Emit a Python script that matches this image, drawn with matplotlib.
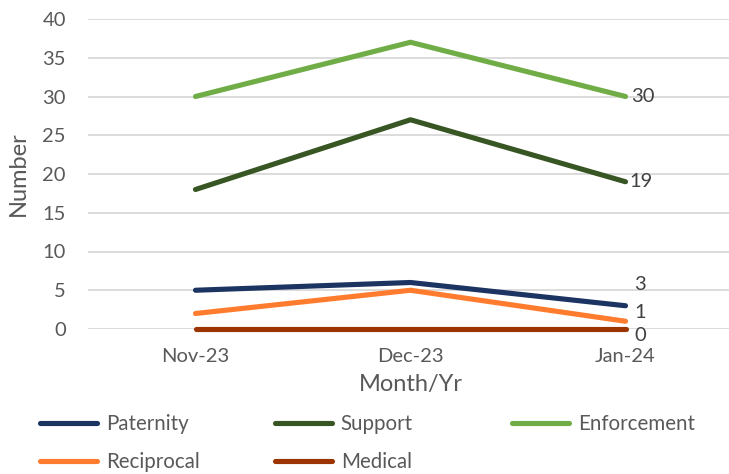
import matplotlib
matplotlib.use("Agg")
import matplotlib.pyplot as plt
from matplotlib.lines import Line2D

plt.rcParams['font.family'] = ['Lato', 'DejaVu Sans']

months = ["Nov-23", "Dec-23", "Jan-24"]
paternity = [5, 6, 3]
support = [18, 27, 19]
enforcement = [30, 37, 30]
reciprocal = [2, 5, 1]
medical = [0, 0, 0]
series_names = ["Paternity", "Support", "Enforcement", "Reciprocal", "Medical"]
series_values = [paternity, support, enforcement, reciprocal, medical]
yticks = [0, 5, 10, 15, 20, 25, 30, 35, 40]

colors = ["#1B3462", "#375623", "#70AD47", "#FF7C2E", "#9C3400"]
# label offsets (points) for the last-point data labels
label_offsets = [(6.5, 15), (3, 0), (4, 0), (6.5, 6), (6.5, -4.5)]

W, H = 729, 474
fig = plt.figure(figsize=(W / 100, H / 100), dpi=100)
left, right = 88 / W, 733 / W
bottom, top = 1 - 329 / H, 1 - 19 / H
ax = fig.add_axes([left, bottom, right - left, top - bottom])

x = list(range(len(months)))
lines = []
for name, vals, c in zip(series_names, series_values, colors):
    ln, = ax.plot(x, vals, color=c, lw=3.7, solid_capstyle='round',
                  solid_joinstyle='round', clip_on=False, zorder=3, label=name)
    lines.append(ln)

for vals, off in zip(series_values, label_offsets):
    ax.annotate(str(vals[-1]), xy=(x[-1], vals[-1]), xytext=off,
                textcoords='offset points', ha='left', va='center',
                fontsize=14.5, color='#404040', zorder=4)

ax.set_xlim(-0.5, len(months) - 0.5)
ax.set_ylim(0, 40)
ax.set_yticks(yticks)
ax.set_xticks(x)
ax.set_xticklabels(months)
ax.grid(axis='y', color='#D9D9D9', lw=1.3)
ax.set_axisbelow(True)
for s in ax.spines.values():
    s.set_visible(False)
ax.tick_params(axis='both', length=0, labelsize=14.5, labelcolor='#595959')
ax.tick_params(axis='y', pad=16)
ax.tick_params(axis='x', pad=14)

fig.text(18 / W, 1 - 174 / H, "Number", rotation=90, ha='center', va='center',
         fontsize=17, color='#595959')
fig.text(411 / W, 1 - 385 / H, "Month/Yr", ha='center', va='center',
         fontsize=17, color='#595959')

# legend entries placed like the reference (one legend per entry)
leg_pos = [(40, 424), (275, 424), (512, 424), (40, 462), (275, 462)]
for ln, (px, py) in zip(lines, leg_pos):
    h = Line2D([], [], color=ln.get_color(), lw=3.7, solid_capstyle='round')
    lg = fig.legend([h], [ln.get_label()], loc='center left',
                    bbox_to_anchor=(px / W, 1 - py / H), frameon=False,
                    borderpad=0, borderaxespad=0, handlelength=2.75,
                    handletextpad=0.45, fontsize=14.8, labelcolor='#595959')

fig.savefig("out.png", dpi=100)
